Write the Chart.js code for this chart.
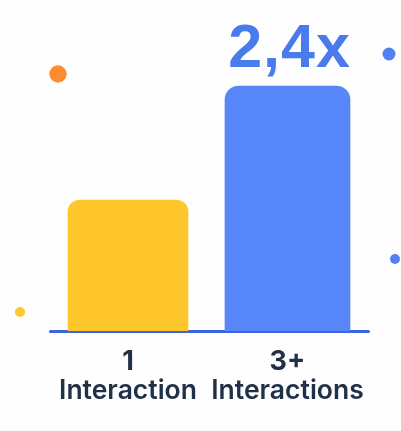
<!DOCTYPE html>
<html>
<head>
<meta charset="utf-8">
<script src="https://cdn.jsdelivr.net/npm/chart.js@4"></script>
<style>
  html, body { margin: 0; padding: 0; background: #fefefe; }
  canvas { display: block; }
</style>
</head>
<body>
<canvas id="chart" width="401" height="431"></canvas>
<script>
// data (bar heights relative to the first bar)
const countLabels = ["1", "3+"];
const nameLabels = ["Interaction", "Interactions"];
const oneValues = [1, null];
const threeValues = [null, 1.87];
const multiplierLabel = "2,4x";

// overlay scale points
const baselineX = [50.5, 368.5];
const baselineY = [331.5, 331.5];
const dotX = [58, 389, 395, 20];
const dotY = [74, 54, 259, 312];

const FONT = "Inter, 'Liberation Sans', sans-serif";

// points outside the chart area are skipped by Chart.js, so draw them here
const overlayPlugin = {
    id: "overlay",
    afterDatasetsDraw(chart) {
        const ctx = chart.ctx;
        chart.getDatasetMeta(3).data.forEach((pt) => pt.draw(ctx));

        const bar = chart.getDatasetMeta(1).data[1];
        ctx.save();
        ctx.font = "700 61px 'Liberation Sans', sans-serif";
        ctx.letterSpacing = "1px";
        ctx.fillStyle = "#4a7bec";
        ctx.textAlign = "center";
        ctx.textBaseline = "alphabetic";
        ctx.fillText(multiplierLabel, bar.x + 2, bar.y - 19);
        ctx.restore();
    },
};

new Chart(document.getElementById("chart"), {
    type: "bar",
    data: {
        labels: countLabels,
        datasets: [
            {
                data: oneValues,
                backgroundColor: "#ffc72c",
                barThickness: 120,
                grouped: false,
                borderRadius: { topLeft: 12, topRight: 12, bottomLeft: 0, bottomRight: 0 },
            },
            {
                data: threeValues,
                backgroundColor: "#5686f8",
                barThickness: 125,
                grouped: false,
                borderRadius: { topLeft: 14, topRight: 14, bottomLeft: 0, bottomRight: 0 },
            },
            {
                type: "line",
                data: baselineX.map((x, i) => ({ x, y: baselineY[i] })),
                xAxisID: "x2",
                yAxisID: "y2",
                borderColor: "#3b66e0",
                borderWidth: 3,
                borderCapStyle: "round",
                pointRadius: 0,
                clip: false,
            },
            {
                type: "scatter",
                data: dotX.map((x, i) => ({ x, y: dotY[i] })),
                xAxisID: "x2",
                yAxisID: "y2",
                pointRadius: [8.5, 6.5, 5, 5],
                pointBorderWidth: 0,
                pointBackgroundColor: ["#ff8a2f", "#5580f0", "#5580f0", "#ffc933"],
                clip: false,
            },
        ],
    },
    options: {
        responsive: false,
        animation: false,
        layout: { autoPadding: false, padding: { left: 48.25, right: 33.75, top: 0, bottom: 0 } },
        plugins: {
            legend: { display: false },
            tooltip: { enabled: false },
        },
        scales: {
            x: {
                type: "category",
                offset: true,
                weight: 0,
                grid: { display: false, drawTicks: false },
                border: { display: false },
                afterFit: (s) => { s.height = 42; },
                ticks: {
                    color: "#1f3047",
                    font: { family: FONT, size: 27, weight: "700" },
                    padding: 15,
                    maxRotation: 0,
                    autoSkip: false,
                },
            },
            x3: {
                type: "category",
                position: "bottom",
                labels: nameLabels,
                offset: true,
                weight: 1,
                grid: { display: false, drawTicks: false },
                border: { display: false },
                afterFit: (s) => { s.height = 58; },
                ticks: {
                    color: "#1f3047",
                    font: { family: FONT, size: 26.5, weight: "600" },
                    padding: 2,
                    maxRotation: 0,
                    autoSkip: false,
                },
            },
            y: {
                display: false,
                min: 0,
                max: 2.527,
            },
            x2: { type: "linear", display: false, offset: false, min: 48.25, max: 367.25 },
            y2: { type: "linear", display: false, offset: false, reverse: true, min: 0, max: 331 },
        },
    },
    plugins: [overlayPlugin],
});
</script>
</body>
</html>
